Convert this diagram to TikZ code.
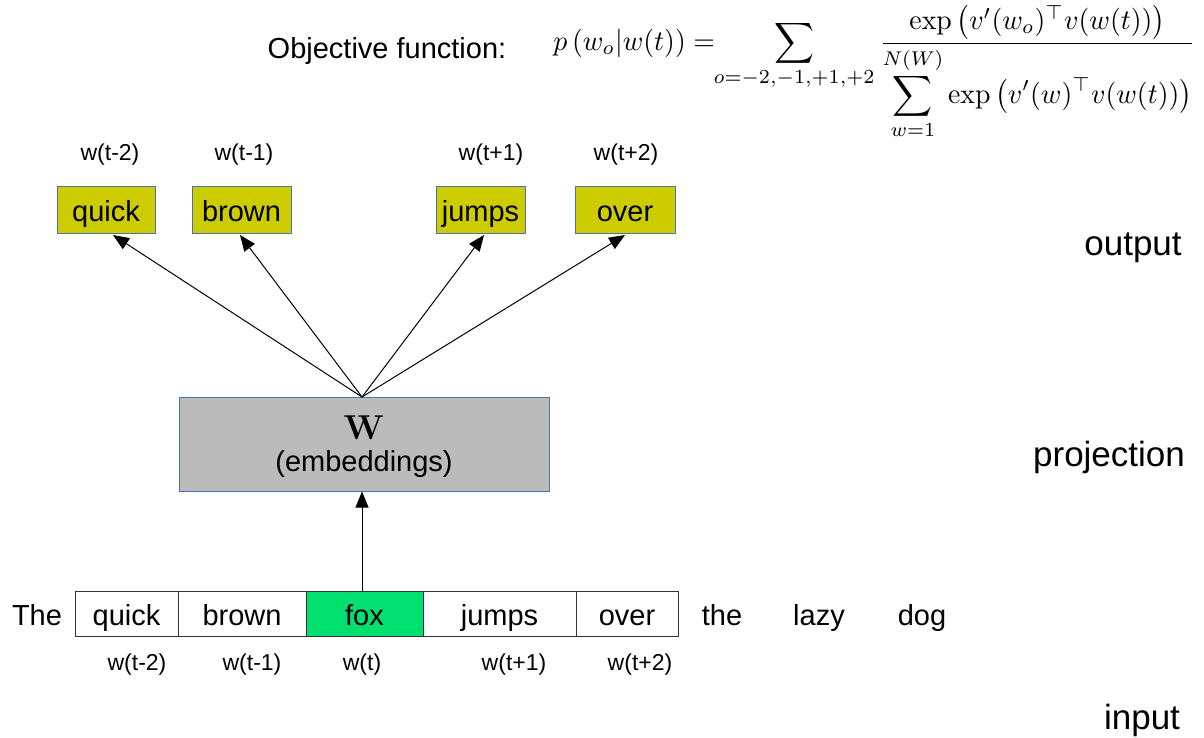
\documentclass[tikz,border=0pt]{standalone}
\usepackage{amsmath,amssymb}
\usepackage[no-math]{fontspec}
\setmainfont{Liberation Sans}
\usetikzlibrary{arrows.meta}
\definecolor{olive}{HTML}{CCCC00}
\definecolor{bord}{HTML}{4A72B0}
\definecolor{proj}{HTML}{BBBBBB}
\definecolor{foxg}{HTML}{00E070}
\begin{document}
\begin{tikzpicture}[x=0.5pt,y=-0.5pt,
  wfont/.style={font=\fontsize{14.5}{16}\selectfont,text height=12.5pt,text depth=0.5pt},
  outbox/.style={wfont,draw=bord,fill=olive,line width=0.5pt,minimum height=23.5pt,inner sep=0pt},
  inbox/.style={wfont,draw=black!80,line width=0.5pt,minimum height=22.5pt,inner sep=0pt},
  lbl/.style={font=\fontsize{11.5}{13}\selectfont,inner sep=0pt,text height=8.5pt,text depth=2.5pt},
  word/.style={wfont,inner sep=0pt},
  big/.style={font=\fontsize{17.5}{20}\selectfont,inner sep=0pt},
  arr/.style={-{Triangle[length=8pt,width=6.5pt]},line width=0.5pt}]
\useasboundingbox (0,0) rectangle (1204,738);
% output boxes
\node[outbox,minimum width=49pt] (oq) at (106,209.5) {quick};
\node[outbox,minimum width=49.5pt] (ob) at (241.5,209.5) {brown};
\node[outbox,minimum width=44.5pt] (oj) at (480.5,209.5) {jumps};
\node[outbox,minimum width=50pt] (oo) at (625,209.5) {over};
\node[lbl] (lq) at (110,155) {w(t-2)};
\node[lbl] (lb) at (244,155) {w(t-1)};
\node[lbl] (lj) at (491,155) {w(t+1)};
\node[lbl] (lo) at (626,155) {w(t+2)};
% projection
\node[draw=bord,fill=proj,line width=0.5pt,minimum width=185pt,minimum height=47pt,inner sep=0pt] (pr) at (364,444) {};
\node[inner sep=0pt] (W) at (364,428) {\fontsize{16}{18}\selectfont$\mathbf{W}$};
\node[word] (emb) at (364,459) {(embeddings)};
\coordinate (ptop) at (362,397);
% arrows to outputs
\draw[arr] (ptop) -- (113,235);
\draw[arr] (ptop) -- (240,235);
\draw[arr] (ptop) -- (484,235);
\draw[arr] (ptop) -- (625,235);
% input row
\node[inbox,minimum width=51.5pt] (iq) at (126.5,613.5) {quick};
\node[inbox,minimum width=64pt] (ib) at (242,613.5) {brown};
\node[inbox,fill=foxg,minimum width=58.5pt] (if) at (364.5,613.5) {fox};
\node[inbox,minimum width=76.5pt] (ij) at (499.5,613.5) {jumps};
\node[inbox,minimum width=51pt] (io) at (627,613.5) {over};
\node[word] (the) at (37,613.5) {The};
\node[word] (the2) at (722,613.5) {the};
\node[word] (lazy) at (819,613.5) {lazy};
\node[word] (dog) at (922,613.5) {dog};
\draw[arr] (if.north -| ptop) -- (pr.south -| ptop);
\node[lbl] (bq) at (137,664) {w(t-2)};
\node[lbl] (bb) at (252,664) {w(t-1)};
\node[lbl] (bf) at (362,664) {w(t)};
\node[lbl] (bj) at (514,664) {w(t+1)};
\node[lbl] (bo) at (640,664) {w(t+2)};
% right labels
\node[big] (out) at (1133,248) {output};
\node[big] (prl) at (1109,457) {projection};
\node[big] (inl) at (1142,720) {input};
% objective
\node[font=\fontsize{14.5}{16}\selectfont,inner sep=0pt] (obj) at (387,51) {Objective function:};
\node[inner sep=0pt,anchor=north west] (eq) at (553,5) {\resizebox*{321pt}{67pt}{$\displaystyle p\left(w_o\middle|w(t)\right)=\!\!\sum_{o=-2,-1,+1,+2}\frac{\exp\left(v'(w_o)^{\top}v(w(t))\right)}{\displaystyle\sum_{w=1}^{N(W)}\exp\left(v'(w)^{\top}v(w(t))\right)}$}};
\end{tikzpicture}
\end{document}
